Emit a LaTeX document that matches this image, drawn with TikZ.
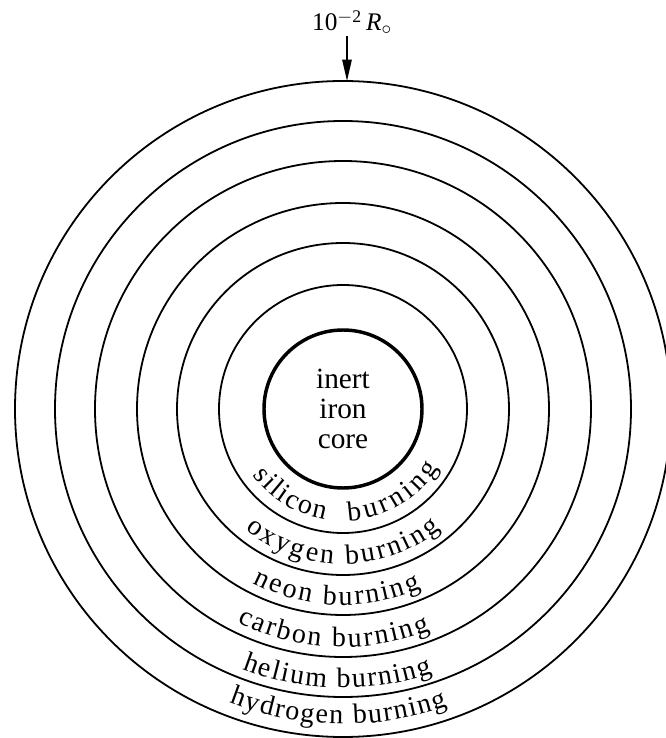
\documentclass[tikz,border=0pt]{standalone}
\usepackage{fontspec}
\setmainfont{Liberation Serif}
\usetikzlibrary{decorations.text,arrows.meta}
\newcommand{\ringfont}{\fontsize{21}{22}\selectfont}
\tikzset{
	shell/.style={line width=1.35pt},
	ironcore/.style={line width=2.6pt},
	ringtext/.style={decorate,decoration={text along path,text align={fit to path},text={|\ringfont|#1}}}
}
\begin{document}
\begin{tikzpicture}[x=0.75pt,y=0.75pt]
		\useasboundingbox (-343,-329) rectangle (322,409);
		\coordinate (C) at (0,0);
		\foreach \r in {124,166,206,248,288,328}
			\draw[shell] (C) circle[radius=\r];
		\draw[ironcore] (C) circle[radius=79];
		\node[align=center,font=\fontsize{22}{22.5}\selectfont] (core) at (C) {inert\\iron\\core};

		\path[ringtext={silicon}] (216.6:112) arc[start angle=216.6,end angle=260.6,radius=112];
		\path[ringtext={burning}] (272.6:112) arc[start angle=272.6,end angle=328.4,radius=112];
		\path[ringtext={oxygen burning}] (231:155) arc[start angle=231,end angle=309,radius=155];
		\path[ringtext={neon burning}] (242.6:196) arc[start angle=242.6,end angle=293.5,radius=196];
		\path[ringtext={carbon burning}] (243.6:238) arc[start angle=243.6,end angle=291.5,radius=238];
		\path[ringtext={helium burning}] (248.8:279) arc[start angle=248.8,end angle=288.7,radius=279];
		\path[ringtext={hydrogen burning}] (248.8:315) arc[start angle=248.8,end angle=289.4,radius=315];

		\coordinate (tip) at (89.3:328);
		\node[anchor=base,inner sep=1pt,font=\fontsize{19}{20}\selectfont] (lbl) at (9,378) {10\textsuperscript{$-$2}\,\textit{R}\textsubscript{$\circ$}};
		\draw[-{Triangle[length=16pt,width=7pt]},line width=1.2pt] (lbl.south -| tip) -- (tip);
\end{tikzpicture}
\end{document}
